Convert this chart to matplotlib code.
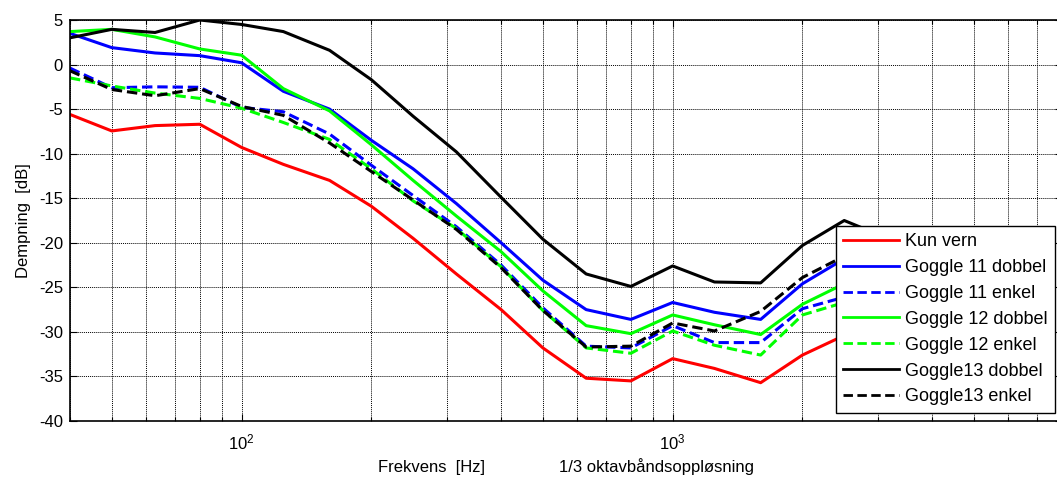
import matplotlib
matplotlib.use("Agg")
import matplotlib.pyplot as plt
import numpy as np
from matplotlib.ticker import LogLocator, FixedLocator, NullFormatter, FuncFormatter

plt.rcParams["font.family"] = ["Liberation Sans", "DejaVu Sans"]
plt.rcParams["mathtext.fontset"] = "custom"
plt.rcParams["mathtext.rm"] = "Liberation Sans"
plt.rcParams["mathtext.it"] = "Liberation Sans"
plt.rcParams["mathtext.default"] = "regular"
plt.rcParams["axes.unicode_minus"] = False

# 1/3-octave band centre frequencies (Hz)
freqs = [40, 50, 63, 80, 100, 125, 160, 200, 250, 315, 400, 500,
         630, 800, 1000, 1250, 1600, 2000, 2500, 3150]

nan = np.nan
kun_vern = [-5.6, -7.45, -6.85, -6.7, -9.3, -11.2, -13.0, -15.9, -19.5, -23.5,
            -27.5, -31.8, -35.2, -35.5, -33.0, -34.1, -35.7, -32.6, -30.4, nan]
g11_dobbel = [3.5, 1.9, 1.3, 1.0, 0.2, -3.0, -5.0, -8.5, -11.7, -15.6,
              -20.0, -24.2, -27.5, -28.6, -26.7, -27.8, -28.6, -24.6, -21.8, nan]
g11_enkel = [-0.4, -2.6, -2.5, -2.55, -4.8, -5.3, -7.8, -11.3, -14.7, -18.2,
             -22.5, -27.3, -31.6, -31.8, -29.3, -31.2, -31.2, -27.4, -26.1, nan]
g12_dobbel = [3.7, 3.95, 3.1, 1.75, 1.05, -2.7, -5.2, -9.0, -13.0, -17.0,
              -21.0, -25.4, -29.3, -30.2, -28.1, -29.2, -30.3, -26.9, -24.6, nan]
g12_enkel = [-1.5, -2.4, -3.2, -3.8, -4.9, -6.5, -8.4, -11.7, -15.3, -18.4,
             -22.7, -27.6, -31.8, -32.4, -29.9, -31.5, -32.6, -28.1, -26.7, nan]
g13_dobbel = [3.0, 3.95, 3.6, 5.0, 4.5, 3.7, 1.6, -1.7, -5.8, -9.8,
              -14.9, -19.6, -23.5, -24.9, -22.6, -24.4, -24.5, -20.3, -17.5, -19.5]
g13_enkel = [-0.7, -2.8, -3.5, -2.7, -4.7, -5.7, -8.8, -12.0, -15.2, -18.5,
             -22.8, -27.6, -31.7, -31.6, -29.0, -29.9, -27.7, -23.9, -21.5, nan]

series = [
    ("Kun vern", kun_vern, "#ff0000", "-"),
    ("Goggle 11 dobbel", g11_dobbel, "#0000ff", "-"),
    ("Goggle 11 enkel", g11_enkel, "#0000ff", "--"),
    ("Goggle 12 dobbel", g12_dobbel, "#00ff00", "-"),
    ("Goggle 12 enkel", g12_enkel, "#00ff00", "--"),
    ("Goggle13 dobbel", g13_dobbel, "#000000", "-"),
    ("Goggle13 enkel", g13_enkel, "#000000", "--"),
]

fig = plt.figure(figsize=(10.57, 4.78), dpi=100)
# axes run to 8 kHz, slightly past the right edge of the canvas
ax = fig.add_axes([70 / 1057, 57 / 478, 992 / 1057, 401 / 478])

for label, vals, color, ls in series:
    line, = ax.plot(freqs, vals, color=color, lw=2.2, label=label)
    if ls == "--":
        line.set_dashes([3.4, 1.6])

ax.set_xscale("log")
ax.set_xlim(40, 8000)
ax.set_ylim(-40, 5)
ax.set_yticks(np.arange(-40, 6, 5))
ax.xaxis.set_major_locator(FixedLocator([100, 1000]))
ax.xaxis.set_major_formatter(
    FuncFormatter(lambda v, p: f"$10^{{{int(round(np.log10(v)))}}}$"))
ax.xaxis.set_minor_locator(LogLocator(base=10, subs=np.arange(2, 10), numticks=20))
ax.xaxis.set_minor_formatter(NullFormatter())

ax.grid(True, which="major", color="black", linestyle=(0, (1, 1)), lw=0.7)
ax.grid(True, which="minor", axis="x", color="black", linestyle=(0, (1, 1)), lw=0.7)
ax.set_axisbelow(True)

ax.tick_params(which="both", direction="in", top=True, right=True,
               labelsize=12, width=0.8)
ax.tick_params(which="major", length=5)
ax.tick_params(which="minor", length=3)
ax.tick_params(axis="y", pad=5)
ax.tick_params(axis="x", pad=8)
for sp in ax.spines.values():
    sp.set_linewidth(1.2)

ax.set_xlabel("Frekvens  [Hz]" + " " * 16 + "1/3 oktavbåndsoppløsning",
              fontsize=12, labelpad=4)
ax.set_ylabel("Dempning  [dB]", fontsize=12, labelpad=6)

leg = ax.legend(loc="lower left", bbox_to_anchor=(0.772, 0.021),
                fontsize=13, frameon=True, fancybox=False, framealpha=1,
                edgecolor="black", borderaxespad=0, borderpad=0.4,
                handlelength=3.1, handletextpad=0.35, labelspacing=0.49)
leg.set_zorder(10)
leg.get_frame().set_linewidth(1.0)
for h in leg.get_lines():
    h.set_linewidth(2.0)

fig.savefig("out.png", dpi=100)
